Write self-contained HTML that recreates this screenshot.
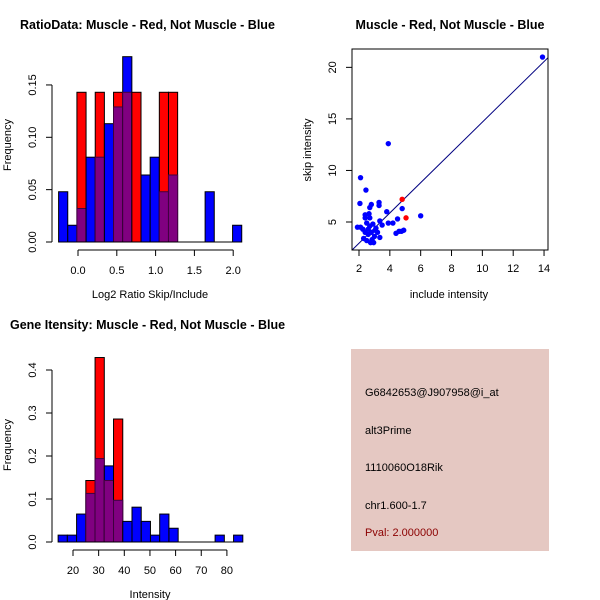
<!DOCTYPE html>
<html><head><meta charset="utf-8"><style>
html,body{margin:0;padding:0;background:#fff}
svg{display:block;font-family:"Liberation Sans",Arial,sans-serif}
</style></head><body>
<svg id="chart" width="600" height="600" viewBox="0 0 600 600">
<g id="p1"></g>
<g id="p2"></g>
<g id="p3"></g>
<g>
<rect x="351" y="349" width="198" height="202" fill="#e5c8c2"/>
<text x="365" y="396" font-size="11">G6842653@J907958@i_at</text>
<text x="365" y="434" font-size="11">alt3Prime</text>
<text x="365" y="471" font-size="11">1110060O18Rik</text>
<text x="365" y="509" font-size="11">chr1.600-1.7</text>
<text x="365" y="536" font-size="11" fill="#8b0000">Pval: 2.000000</text>
</g>
</svg>
<script>
// Ratio histogram data
const ratioBinStart = -0.25;
const ratioBinWidth = 0.118;
const ratioBlue = [0.048,0.016,0.032,0.081,0.081,0.113,0.129,0.177,0,0.064,0.081,0.048,0.064,0,0,0,0.048,0,0,0.016];
const ratioRed  = [0,0,0.143,0,0.143,0,0.143,0.143,0.143,0,0,0.143,0.143,0,0,0,0,0,0,0];
const ratioYTicks = [0,0.05,0.10,0.15];
const ratioYLabels = ["0.00","0.05","0.10","0.15"];
const ratioXTicks = [0,0.5,1.0,1.5,2.0];
const ratioXLabels = ["0.0","0.5","1.0","1.5","2.0"];
// Intensity histogram data
const intBinStart = 14.2;
const intBinWidth = 3.6;
const intBlue = [0.016,0.016,0.065,0.113,0.194,0.177,0.097,0.048,0.081,0.048,0.016,0.065,0.032,0,0,0,0,0.016,0,0.016];
const intRed  = [0,0,0,0.143,0.429,0.143,0.286,0,0,0,0,0,0,0,0,0,0,0,0,0];
const intYTicks = [0,0.1,0.2,0.3,0.4];
const intYLabels = ["0.0","0.1","0.2","0.3","0.4"];
const intXTicks = [20,30,40,50,60,70,80];
const intXLabels = ["20","30","40","50","60","70","80"];
// Scatter data
const blueX = [13.9,3.9,2.1,2.45,2.06,3.3,3.3,2.8,2.7,3.8,4.8,6.0,4.5,3.9,4.2,2.4,2.65,2.4,2.7,3.35,3.5,4.4,4.6,4.75,4.9,1.9,2.1,2.25,2.5,2.7,2.9,3.1,2.4,2.6,2.8,3.0,3.2,3.35,2.3,2.5,2.75,2.95,2.6,3.05,2.85];
const blueY = [21,12.6,9.3,8.1,6.8,6.9,6.6,6.7,6.4,6.0,6.3,5.6,5.3,4.9,4.9,5.7,5.8,5.4,5.4,5.1,4.7,3.9,4.1,4.1,4.2,4.5,4.5,4.3,4.9,4.6,4.8,4.4,4.0,3.8,4.0,3.6,4.0,3.5,3.4,3.2,3.0,3.0,4.3,4.2,3.3];
const redX = [4.8,5.05];
const redY = [7.2,5.4];
const fitLine = [[1.55,2.28],[14.3,21.0]];
const scXTicks = [2,4,6,8,10,12,14];
const scYTicks = [5,10,15,20];

const NS="http://www.w3.org/2000/svg";
function mk(parent,tag,attrs){const e=document.createElementNS(NS,tag);for(const k in attrs)e.setAttribute(k,attrs[k]);parent.appendChild(e);return e;}
function txt(parent,x,y,s,size,extra){const t=mk(parent,'text',Object.assign({x:x,y:y,'font-size':size,'text-anchor':'middle'},extra||{}));t.textContent=s;return t;}

function hist(g,o){
  const X=v=>o.x0+(v-o.xv0)*o.xs, Y=v=>o.y0-v*o.ys;
  for(let i=0;i<o.blue.length;i++){
    const b=o.blue[i], r=o.red[i];
    const l=X(o.bs+i*o.bw), w=o.bw*o.xs;
    const hi=Math.max(b,r), lo=Math.min(b,r);
    if(hi>0){
      const e=mk(g,'rect',{x:l,y:Y(hi),width:w,height:Y(0)-Y(hi),fill:b>=r?'#0000ff':'#ff0000',stroke:'#000','stroke-width':1});
      
      
    }
    if(lo>0){
      const e=mk(g,'rect',{x:l,y:Y(lo),width:w,height:Y(0)-Y(lo),fill:'#800080',stroke:'#400040','stroke-width':1});
      
      
    }
  }
  const n=o.blue.length;
  mk(g,'line',{x1:X(o.bs),x2:X(o.bs+n*o.bw),y1:Y(0),y2:Y(0),stroke:'#000'});
  const ya=mk(g,'g',{});
  
  
  mk(ya,'line',{x1:52,x2:52,y1:Y(o.yt[0]),y2:Y(o.yt[o.yt.length-1]),stroke:'#000'});
  o.yt.forEach((v,i)=>{mk(ya,'line',{x1:46,x2:52,y1:Y(v),y2:Y(v),stroke:'#000'});
    txt(ya,0,0,o.yl[i],11,{transform:`translate(36,${Y(v)}) rotate(-90)`});});
  const xa=mk(g,'g',{});
  
  
  const ay=o.y0+8;
  mk(xa,'line',{x1:X(o.xt[0]),x2:X(o.xt[o.xt.length-1]),y1:ay,y2:ay,stroke:'#000'});
  o.xt.forEach((v,i)=>{mk(xa,'line',{x1:X(v),x2:X(v),y1:ay,y2:ay+6,stroke:'#000'});
    txt(xa,X(v),ay+24,o.xl[i],11);});
  const t=txt(g,150,o.y0+56,o.xlabel,11);
  
  
  const f=txt(g,0,0,'Frequency',11,{transform:`translate(11,${o.y0-97}) rotate(-90)`});
  
  
  const h=mk(g,'text',{x:o.tx,y:o.ty,'font-size':12.5,'font-weight':'bold'});
  h.textContent=o.title;
  
  
}
hist(document.getElementById('p1'),{x0:78,xv0:0,xs:77.6,y0:242,ys:1047,bs:ratioBinStart,bw:ratioBinWidth,blue:ratioBlue,red:ratioRed,
  yt:ratioYTicks,yl:ratioYLabels,xt:ratioXTicks,xl:ratioXLabels,xlabel:'Log2 Ratio Skip/Include',tx:20,ty:29,title:'RatioData: Muscle - Red, Not Muscle - Blue'});
hist(document.getElementById('p3'),{x0:73,xv0:20,xs:2.565,y0:542,ys:430,bs:intBinStart,bw:intBinWidth,blue:intBlue,red:intRed,
  yt:intYTicks,yl:intYLabels,xt:intXTicks,xl:intXLabels,xlabel:'Intensity',tx:10,ty:329,title:'Gene Itensity: Muscle - Red, Not Muscle - Blue'});

(function(){
  const g=document.getElementById('p2');
  const X=v=>359+(v-2)*15.42, Y=v=>222-(v-5)*10.31;
  const cp=mk(g,'clipPath',{id:'sc'});mk(cp,'rect',{x:352,y:49,width:196,height:201});
  const pg=mk(g,'g',{'clip-path':'url(#sc)'});
  const ln=mk(pg,'line',{x1:X(fitLine[0][0]),y1:Y(fitLine[0][1]),x2:X(fitLine[1][0]),y2:Y(fitLine[1][1]),stroke:'#000080','stroke-width':1});
  
  
  blueX.forEach((x,i)=>{const c=mk(pg,'circle',{cx:X(x),cy:Y(blueY[i]),r:2.7,fill:'#0000ff'});
    
    });
  redX.forEach((x,i)=>{const c=mk(pg,'circle',{cx:X(x),cy:Y(redY[i]),r:2.7,fill:'#ff0000'});
    
    });
  mk(g,'rect',{x:352,y:49,width:196,height:201,fill:'none',stroke:'#000'});
  scXTicks.forEach(v=>{mk(g,'line',{x1:X(v),x2:X(v),y1:250,y2:256,stroke:'#000'});txt(g,X(v),272,String(v),11);});
  scYTicks.forEach(v=>{mk(g,'line',{x1:346,x2:352,y1:Y(v),y2:Y(v),stroke:'#000'});txt(g,0,0,String(v),11,{transform:`translate(336,${Y(v)}) rotate(-90)`});});
  const xt=txt(g,449,298,'include intensity',11);
  
  
  const yt=txt(g,0,0,'skip intensity',11,{transform:'translate(311,150) rotate(-90)'});
  
  
  const h=txt(g,450,29,'Muscle - Red, Not Muscle - Blue',12.5,{'font-weight':'bold'});
  
  
})();
</script>
</body></html>
